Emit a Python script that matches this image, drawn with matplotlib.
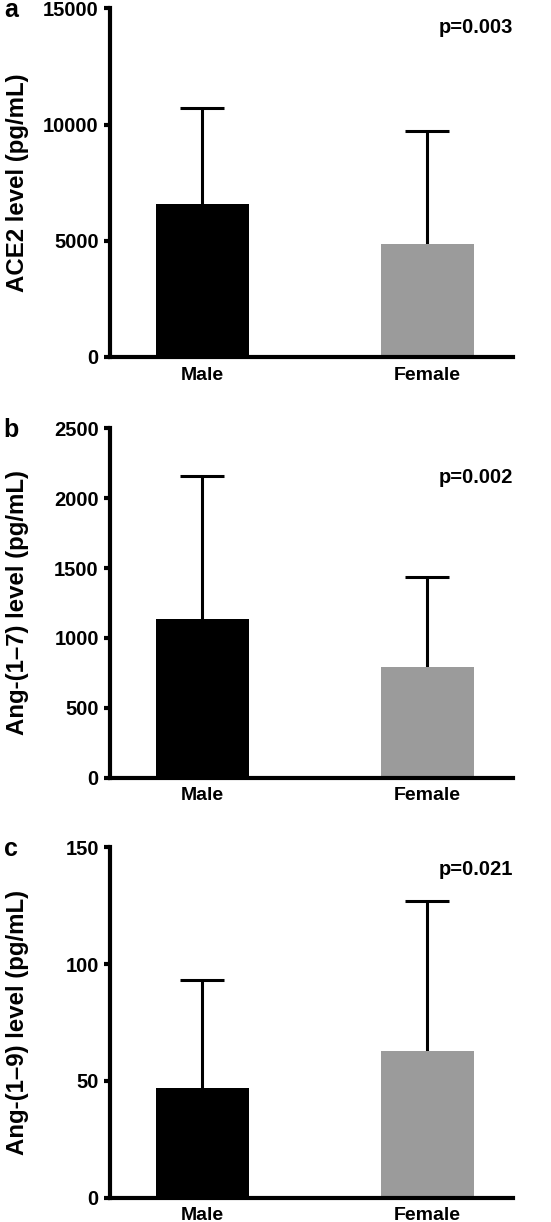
import matplotlib
matplotlib.use("Agg")
from matplotlib import pyplot as plt

plt.rcParams['font.family'] = ['Liberation Sans', 'DejaVu Sans']
plt.rcParams['font.weight'] = 'bold'

groups = ["Male", "Female"]
bar_colors = ["#000000", "#9b9b9b"]

ace2_mean = [6600, 4880]
ace2_sd = [4090, 4840]
ang17_mean = [1135, 795]
ang17_sd = [1025, 640]
ang19_mean = [46.8, 62.8]
ang19_sd = [46.4, 64.1]

panels = [
    ("a", ace2_mean, ace2_sd, [0, 5000, 10000, 15000], "ACE2 level (pg/mL)", "p=0.003", 0.946),
    ("b", ang17_mean, ang17_sd, [0, 500, 1000, 1500, 2000, 2500], "Ang-(1\u20137) level (pg/mL)", "p=0.002", 0.859),
    ("c", ang19_mean, ang19_sd, [0, 50, 100, 150], "Ang-(1\u20139) level (pg/mL)", "p=0.021", 0.938),
]

# axes boxes in figure fractions [left, bottom, width, height]
boxes = [
    [0.1996, 0.7079, 0.7314, 0.2853],
    [0.1996, 0.3636, 0.7314, 0.2859],
    [0.1996, 0.0199, 0.7314, 0.2867],
]


def main():
    fig = plt.figure(figsize=(5.51, 12.22), dpi=100)

    for (letter, means, sds, ticks, ylabel, ptext, py), box in zip(panels, boxes):
        ax = fig.add_axes(box)
        x = [0, 1]
        ax.bar(x, means, width=0.415, color=bar_colors, zorder=2)
        eb = ax.errorbar(x, means, yerr=[[0, 0], sds], fmt="none", ecolor="black",
                         elinewidth=2.2, capsize=15.5, capthick=2.2, zorder=1)
        # only the upper cap is shown
        eb[1][0].set_visible(False)

        ax.set_xlim(-0.41, 1.38)
        ax.set_ylim(0, ticks[-1])
        ax.set_yticks(ticks)
        ax.set_yticklabels([str(t) for t in ticks])
        ax.set_xticks(x)
        ax.set_xticklabels(groups)

        for side in ["top", "right"]:
            ax.spines[side].set_visible(False)
        for side in ["left", "bottom"]:
            ax.spines[side].set_linewidth(3)
        ax.tick_params(axis="y", width=3, length=4, labelsize=14.5, pad=4)
        ax.tick_params(axis="x", length=0, labelsize=14, pad=7)

        ax.set_ylabel(ylabel, fontsize=17.3, fontweight="bold")
        ax.yaxis.set_label_coords(-0.202, 0.5)

        ax.text(1.0, py, ptext, transform=ax.transAxes, ha="right", va="center",
                fontsize=14.5, fontweight="bold")
        ax.text(-0.245, 0.995, letter, transform=ax.transAxes, ha="center", va="center",
                fontsize=18, fontweight="bold")

    fig.savefig("out.png", dpi=100)


if __name__ == "__main__":
    main()
